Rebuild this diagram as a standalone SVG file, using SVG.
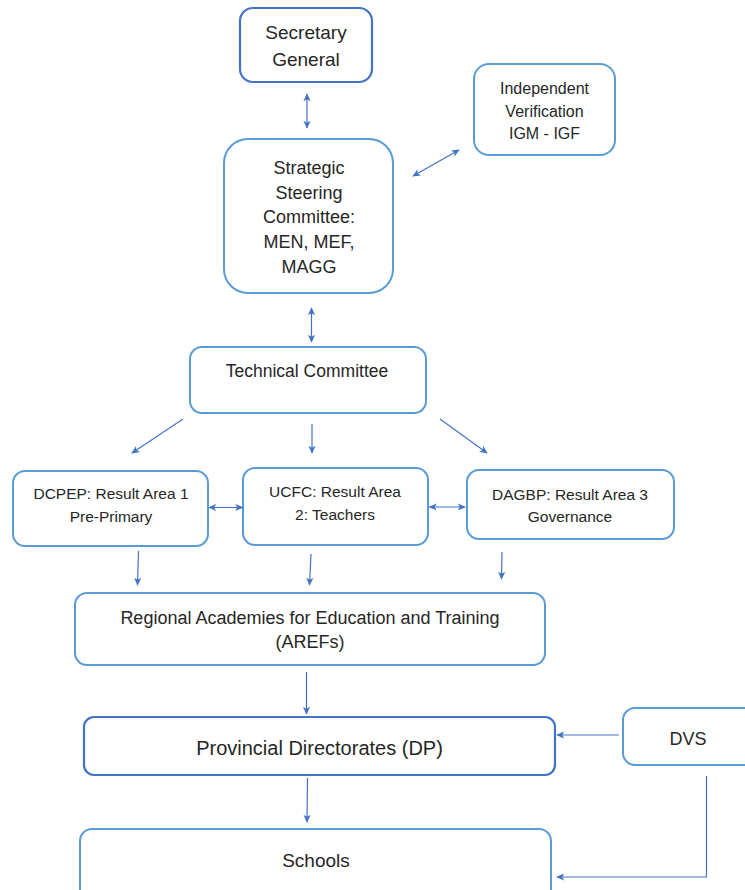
<svg xmlns="http://www.w3.org/2000/svg" width="745" height="890" viewBox="0 0 745 890">
<defs>
<style>
.box{fill:#fff;stroke:#5B9BD5;stroke-width:2}
.dark{fill:#fff;stroke:#4472C4;stroke-width:2.2}
.t{font-family:"Liberation Sans",Arial,sans-serif;fill:#262626;text-anchor:middle}
.c{fill:none;stroke:#4472C4;stroke-width:1.2}
</style>
<marker id="ah" viewBox="0 0 10 10" refX="9" refY="5" markerWidth="8" markerHeight="8" orient="auto-start-reverse" markerUnits="userSpaceOnUse">
<path d="M0,0.5 L10,5 L0,9.5 L2.5,5 Z" fill="#4472C4"/>
</marker>
</defs>
<rect width="745" height="890" fill="#fff"/>
<g id="secretary-general">
<rect class="dark" x="240" y="8" width="132" height="74" rx="13"/>
<text class="t" x="306" y="39" font-size="19">Secretary</text>
<text class="t" x="306" y="66" font-size="19">General</text>
</g>
<g id="independent-verification">
<rect class="box" x="474" y="64" width="141" height="91" rx="15"/>
<text class="t" x="544.5" y="94" font-size="16">Independent</text>
<text class="t" x="544.5" y="116.5" font-size="16">Verification</text>
<text class="t" x="544.5" y="139" font-size="16">IGM - IGF</text>
</g>
<g id="strategic-steering">
<rect class="box" x="224" y="139" width="169" height="154" rx="24"/>
<text class="t" x="309" y="174" font-size="18">Strategic</text>
<text class="t" x="309" y="198.5" font-size="18">Steering</text>
<text class="t" x="309" y="223" font-size="18">Committee:</text>
<text class="t" x="309" y="247.5" font-size="18">MEN, MEF,</text>
<text class="t" x="309" y="272.5" font-size="18">MAGG</text>
</g>
<g id="technical-committee">
<rect class="box" x="190" y="347" width="236" height="66" rx="12"/>
<text class="t" x="307" y="377" font-size="17.5">Technical Committee</text>
</g>
<g id="dcpep">
<rect class="box" x="13" y="471" width="195" height="75" rx="12"/>
<text class="t" x="111" y="499" font-size="15.5">DCPEP: Result Area 1</text>
<text class="t" x="111" y="521.5" font-size="15.5">Pre-Primary</text>
</g>
<g id="ucfc">
<rect class="box" x="243" y="468" width="185" height="77" rx="12"/>
<text class="t" x="335" y="496.5" font-size="15.5">UCFC: Result Area</text>
<text class="t" x="335" y="520" font-size="15.5">2: Teachers</text>
</g>
<g id="dagbp">
<rect class="box" x="467" y="470" width="207" height="69" rx="12"/>
<text class="t" x="570" y="500" font-size="15.5">DAGBP: Result Area 3</text>
<text class="t" x="570" y="521.5" font-size="15.5">Governance</text>
</g>
<g id="arefs">
<rect class="box" x="75" y="593" width="470" height="72" rx="12"/>
<text class="t" x="310" y="624" font-size="18">Regional Academies for Education and Training</text>
<text class="t" x="310" y="648" font-size="18">(AREFs)</text>
</g>
<g id="provincial-directorates">
<rect class="dark" x="84" y="717" width="471" height="58" rx="10"/>
<text class="t" x="319.5" y="755" font-size="20">Provincial Directorates (DP)</text>
</g>
<g id="dvs">
<rect class="box" x="623" y="708" width="135" height="57" rx="12"/>
<text class="t" x="688" y="745" font-size="18">DVS</text>
</g>
<g id="schools">
<rect class="box" x="80" y="829" width="471" height="75" rx="12"/>
<text class="t" x="316" y="867" font-size="19">Schools</text>
</g>
<g id="connectors">
<line class="c" x1="307" y1="94" x2="307" y2="128" marker-start="url(#ah)" marker-end="url(#ah)"/>
<line class="c" x1="413" y1="176" x2="459" y2="150" marker-start="url(#ah)" marker-end="url(#ah)"/>
<line class="c" x1="311.5" y1="308" x2="311.5" y2="342" marker-start="url(#ah)" marker-end="url(#ah)"/>
<line class="c" x1="183" y1="419" x2="132" y2="453" marker-end="url(#ah)"/>
<line class="c" x1="312" y1="424" x2="312" y2="453" marker-end="url(#ah)"/>
<line class="c" x1="440" y1="419" x2="487" y2="453" marker-end="url(#ah)"/>
<line class="c" x1="209" y1="507.5" x2="242.5" y2="507.5" marker-start="url(#ah)" marker-end="url(#ah)"/>
<line class="c" x1="429.5" y1="507" x2="465" y2="507" marker-start="url(#ah)" marker-end="url(#ah)"/>
<line class="c" x1="138.5" y1="551" x2="137.5" y2="585" marker-end="url(#ah)"/>
<line class="c" x1="311" y1="554" x2="309.5" y2="585" marker-end="url(#ah)"/>
<line class="c" x1="502" y1="552" x2="501.5" y2="579" marker-end="url(#ah)"/>
<line class="c" x1="306.5" y1="672" x2="306.5" y2="714" marker-end="url(#ah)"/>
<line class="c" x1="619" y1="735" x2="557" y2="735" marker-end="url(#ah)"/>
<line class="c" x1="307.5" y1="778" x2="307" y2="822" marker-end="url(#ah)"/>
<polyline class="c" points="706.5,776 706.5,877 557,877" marker-end="url(#ah)"/>
</g>
</svg>
